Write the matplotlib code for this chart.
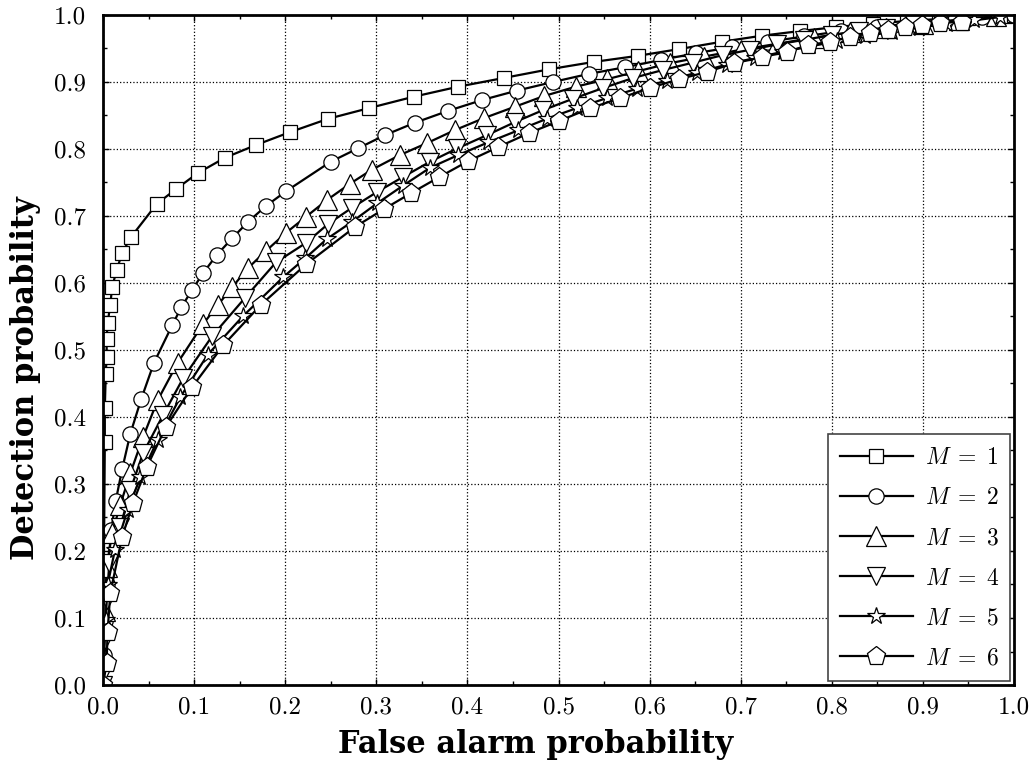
import matplotlib
matplotlib.use('Agg')
import matplotlib.pyplot as plt
from matplotlib.ticker import MultipleLocator

plt.rcParams['mathtext.fontset'] = 'cm'
plt.rcParams['axes.formatter.use_mathtext'] = True

# ROC curves, one list pair per number of sensors M
pfa_m1 = [0.0, 0.002, 0.002, 0.003, 0.004, 0.004, 0.005, 0.008, 0.010, 0.015, 0.021, 0.031,
          0.059, 0.080, 0.104, 0.134, 0.168, 0.205, 0.247, 0.292, 0.341, 0.390, 0.440,
          0.490, 0.539, 0.587, 0.632, 0.679, 0.723, 0.765, 0.805, 0.845, 0.882, 0.918,
          0.950, 0.975, 0.990, 1.0]
pd_m1 = [0.0, 0.363, 0.413, 0.464, 0.490, 0.516, 0.540, 0.567, 0.594, 0.619, 0.645, 0.669,
         0.718, 0.740, 0.764, 0.787, 0.806, 0.825, 0.845, 0.861, 0.878, 0.893, 0.906,
         0.919, 0.930, 0.939, 0.949, 0.960, 0.969, 0.976, 0.982, 0.987, 0.991, 0.994,
         0.996, 0.998, 0.999, 1.0]

pfa_m2 = [0.0, 0.001, 0.002, 0.004, 0.009, 0.014, 0.021, 0.030, 0.042, 0.056, 0.076, 0.086,
          0.098, 0.110, 0.125, 0.142, 0.159, 0.179, 0.201, 0.250, 0.280, 0.310, 0.342,
          0.379, 0.416, 0.454, 0.494, 0.533, 0.573, 0.613, 0.651, 0.690, 0.730, 0.770,
          0.810, 0.850, 0.890, 0.930, 0.965, 1.0]
pd_m2 = [0.0, 0.045, 0.095, 0.150, 0.231, 0.275, 0.322, 0.375, 0.427, 0.481, 0.537, 0.564,
         0.590, 0.615, 0.642, 0.667, 0.691, 0.715, 0.737, 0.781, 0.801, 0.821, 0.839,
         0.857, 0.873, 0.887, 0.900, 0.912, 0.922, 0.933, 0.943, 0.952, 0.960, 0.968,
         0.976, 0.982, 0.988, 0.993, 0.997, 1.0]

pfa_m3 = [0.0, 0.001, 0.002, 0.004, 0.010, 0.019, 0.030, 0.044, 0.060, 0.082, 0.110, 0.126,
          0.142, 0.159, 0.179, 0.201, 0.223, 0.246, 0.271, 0.295, 0.326, 0.356, 0.386,
          0.418, 0.452, 0.484, 0.519, 0.553, 0.587, 0.622, 0.660, 0.700, 0.740, 0.780,
          0.820, 0.860, 0.900, 0.940, 0.980]
pd_m3 = [0.0, 0.040, 0.110, 0.176, 0.227, 0.269, 0.316, 0.370, 0.425, 0.481, 0.539, 0.567,
         0.594, 0.622, 0.648, 0.675, 0.699, 0.724, 0.748, 0.769, 0.791, 0.809, 0.828,
         0.846, 0.863, 0.879, 0.893, 0.904, 0.916, 0.928, 0.938, 0.948, 0.957, 0.966,
         0.974, 0.981, 0.987, 0.993, 0.998]

pfa_m4 = [0.0, 0.001, 0.002, 0.004, 0.007, 0.019, 0.030, 0.044, 0.066, 0.088, 0.120, 0.156,
          0.190, 0.223, 0.247, 0.273, 0.301, 0.329, 0.359, 0.389, 0.422, 0.452, 0.483,
          0.516, 0.549, 0.582, 0.615, 0.648, 0.680, 0.710, 0.740, 0.770, 0.800, 0.830,
          0.860, 0.890, 0.920, 0.950, 0.980]
pd_m4 = [0.0, 0.020, 0.067, 0.127, 0.182, 0.236, 0.291, 0.346, 0.403, 0.458, 0.521, 0.578,
         0.631, 0.660, 0.688, 0.712, 0.736, 0.758, 0.781, 0.801, 0.821, 0.840, 0.858,
         0.875, 0.891, 0.906, 0.918, 0.929, 0.940, 0.948, 0.956, 0.963, 0.970, 0.976,
         0.981, 0.986, 0.990, 0.994, 0.997]

pfa_m5 = [0.0, 0.001, 0.003, 0.005, 0.013, 0.027, 0.041, 0.060, 0.085, 0.115, 0.154, 0.198,
          0.222, 0.246, 0.273, 0.301, 0.329, 0.359, 0.390, 0.423, 0.456, 0.487, 0.520,
          0.553, 0.586, 0.619, 0.652, 0.685, 0.716, 0.746, 0.776, 0.806, 0.836, 0.866,
          0.896, 0.926, 0.956, 0.985]
pd_m5 = [0.0, 0.037, 0.097, 0.149, 0.201, 0.261, 0.310, 0.366, 0.430, 0.493, 0.551, 0.609,
         0.637, 0.666, 0.691, 0.719, 0.745, 0.772, 0.791, 0.810, 0.828, 0.845, 0.861,
         0.876, 0.890, 0.902, 0.914, 0.926, 0.936, 0.945, 0.953, 0.961, 0.968, 0.975,
         0.981, 0.987, 0.992, 0.997]

pfa_m6 = [0.0, 0.004, 0.005, 0.008, 0.021, 0.033, 0.048, 0.069, 0.098, 0.132, 0.173, 0.223,
          0.277, 0.308, 0.338, 0.369, 0.401, 0.434, 0.468, 0.501, 0.535, 0.568, 0.600,
          0.632, 0.663, 0.693, 0.723, 0.751, 0.774, 0.798, 0.820, 0.842, 0.862, 0.880,
          0.899, 0.919, 0.943]
pd_m6 = [0.0, 0.033, 0.079, 0.137, 0.221, 0.272, 0.325, 0.385, 0.445, 0.507, 0.567, 0.628,
         0.684, 0.710, 0.734, 0.758, 0.782, 0.803, 0.824, 0.842, 0.861, 0.876, 0.891,
         0.904, 0.915, 0.928, 0.937, 0.945, 0.955, 0.960, 0.967, 0.973, 0.978, 0.982,
         0.985, 0.988, 0.990]

labels = [r'$M\;=\;1$', r'$M\;=\;2$', r'$M\;=\;3$', r'$M\;=\;4$', r'$M\;=\;5$', r'$M\;=\;6$']
curves = [(pfa_m1, pd_m1), (pfa_m2, pd_m2), (pfa_m3, pd_m3),
          (pfa_m4, pd_m4), (pfa_m5, pd_m5), (pfa_m6, pd_m6)]
markers = ['s', 'o', '^', 'v', '*', 'p']
msizes = [10, 11, 14, 13, 13, 14]

fig = plt.figure(figsize=(10.3, 7.64), dpi=100)
ax = fig.add_axes([0.1, 0.1034, 0.8845, 0.877])

for (x, y), lab, mk, ms in zip(curves, labels, markers, msizes):
    ax.plot(x, y, color='black', lw=1.6, marker=mk, ms=ms, mfc='white',
            mec='black', mew=0.9, label=lab)

ax.set_xlim(0, 1)
ax.set_ylim(0, 1)
ax.xaxis.set_major_locator(MultipleLocator(0.1))
ax.yaxis.set_major_locator(MultipleLocator(0.1))
ax.xaxis.set_minor_locator(MultipleLocator(0.05))
ax.yaxis.set_minor_locator(MultipleLocator(0.05))
ax.xaxis.set_major_formatter(plt.FuncFormatter(lambda v, p: f'{v:.1f}'))
ax.yaxis.set_major_formatter(plt.FuncFormatter(lambda v, p: f'{v:.1f}'))
ax.tick_params(which='both', direction='in', top=True, right=True, width=1)
ax.tick_params(which='major', length=4, labelsize=18, labelfontfamily='cmr10')
ax.tick_params(axis='x', which='major', pad=8)
ax.tick_params(axis='y', which='major', pad=12)
ax.tick_params(which='minor', length=3)
ax.grid(True, which='major', color='black', ls=':', lw=0.9)
for s in ax.spines.values():
    s.set_linewidth(2.0)

ax.set_xlabel('False alarm probability', family='DejaVu Serif', fontweight='bold',
              fontsize=22)
ax.set_ylabel('Detection probability', family='DejaVu Serif', fontweight='bold',
              fontsize=22)
ax.xaxis.set_label_coords(0.475, -0.065)
ax.yaxis.set_label_coords(-0.068, 0.458)

leg = ax.legend(loc='lower right', fontsize=17, handlelength=3.1, labelspacing=0.68,
                fancybox=False, framealpha=1, edgecolor='#444444', borderaxespad=0.15,
                handletextpad=0.5, borderpad=0.5)
leg.get_frame().set_linewidth(1.2)

fig.savefig('out.png', dpi=100)
